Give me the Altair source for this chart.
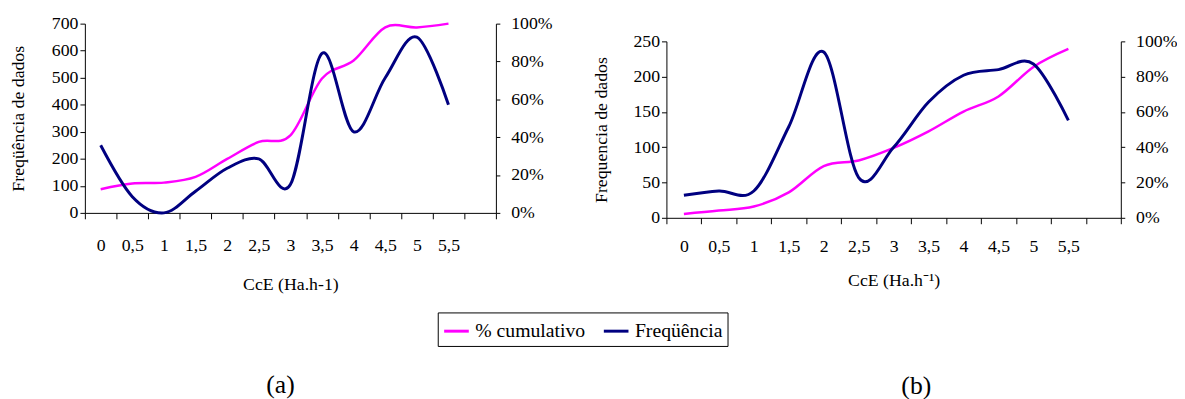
import altair as alt
import pandas as pd

# ---- data ----
x_labels = ["0", "0,5", "1", "1,5", "2", "2,5", "3", "3,5", "4", "4,5", "5", "5,5"]
freq_a = [250, 60, 0, 80, 165, 200, 105, 590, 300, 500, 650, 400]
cum_a = [12.5, 15.5, 16, 19, 28.5, 37.5, 41, 71, 80.5, 98, 98, 100]
freq_b = [32, 38, 38, 129, 235, 57, 100, 164, 202, 210, 218, 138]
cum_b = [2.2, 4.1, 6.4, 14.4, 29.3, 32.5, 39.6, 49, 60.2, 68.8, 85.5, 95.7]
series = ["% cumulativo", "Freqüência"]
colors = ["#FF00FF", "#000080"]
pct_ticks = [0, 20, 40, 60, 80, 100]
freq_ticks_a = [0, 100, 200, 300, 400, 500, 600, 700]
freq_ticks_b = [0, 50, 100, 150, 200, 250]

FONT = "Liberation Serif"
x_domain = x_labels + [" "]

color_scale = alt.Scale(domain=series, range=colors)
legend = alt.Legend(
    orient="none", legendX=358, legendY=293, direction="horizontal", title=None,
    symbolType="stroke", symbolStrokeWidth=3, symbolSize=625,
    labelFont=FONT, labelFontSize=20, labelColor="black", labelOffset=5,
    strokeColor="black", fillColor="white", padding=5, columnPadding=12,
)


def panel(freq, cum, ytitle, xtitle, yticks, w, h, label_pad, title_pad, ytitle_pad, tag, tag_dx, tag_offset):
    df = pd.DataFrame({"x": x_labels, "freq": freq, "cum": cum,
                       "s1": series[0], "s2": series[1]})
    base = alt.Chart(df)
    x_enc = alt.X(
        "x:N",
        scale=alt.Scale(type="band", domain=x_domain, paddingInner=0, paddingOuter=0),
        bandPosition=0.5,
        axis=alt.Axis(orient="bottom", tickBand="extent", labelAngle=0, tickSize=6,
                      labelPadding=label_pad, labelBaseline="middle",
                      title=xtitle, titlePadding=title_pad),
    )
    pink = base.mark_line(interpolate="cardinal", strokeWidth=2.5).encode(
        x=x_enc,
        y=alt.Y("cum:Q", scale=alt.Scale(domain=[0, 100]),
                axis=alt.Axis(orient="right", values=pct_ticks,
                              labelExpr="datum.value + '%'", title=None,
                              tickSize=4, labelPadding=11)),
        color=alt.Color("s1:N", scale=color_scale, legend=legend),
    )
    navy = base.mark_line(interpolate="cardinal", strokeWidth=3).encode(
        x=x_enc,
        y=alt.Y("freq:Q", scale=alt.Scale(domain=[0, yticks[-1]]),
                axis=alt.Axis(orient="left", values=yticks, title=ytitle,
                              tickSize=5, labelPadding=2, titlePadding=ytitle_pad)),
        color=alt.Color("s2:N", scale=color_scale, legend=legend),
    )
    return alt.layer(pink, navy).resolve_scale(y="independent").properties(
        width=w, height=h,
        title=alt.TitleParams(tag, orient="bottom", anchor="middle", frame="group",
                              dx=tag_dx, offset=tag_offset, fontSize=26, font=FONT,
                              fontWeight="normal", color="black"),
    )


panel_a = panel(freq_a, cum_a, "Freqüência de dados", "CcE (Ha.h-1)", freq_ticks_a,
                417, 192, 27.5, 21, 24, "(a)", -10, 80)
panel_b = panel(freq_b, cum_b, "Frequencia de dados", "CcE (Ha.h⁻¹)", freq_ticks_b,
                461, 179, 23, 16.5, 23, "(b)", 23, 85)

spacer = alt.Chart(pd.DataFrame({"v": [0]})).mark_point(opacity=0).properties(width=10, height=1)
col_b = alt.vconcat(spacer, panel_b, spacing=5)

chart = alt.hconcat(panel_a, col_b, spacing=41).properties(
    padding={"left": 2, "top": 4, "right": 0, "bottom": 0}
).configure_view(stroke=None).configure_axis(
    grid=False, domainColor="black", tickColor="black", labelColor="black",
    titleColor="black", labelFont=FONT, titleFont=FONT, labelFontSize=18,
    titleFontSize=18, titleFontWeight="normal", domainWidth=1, tickWidth=1,
).configure_legend(
    labelFont=FONT, labelFontSize=20, labelColor="black"
).configure_title(font=FONT)

chart.save("out.html", embed_options={"renderer": "svg", "actions": False})
